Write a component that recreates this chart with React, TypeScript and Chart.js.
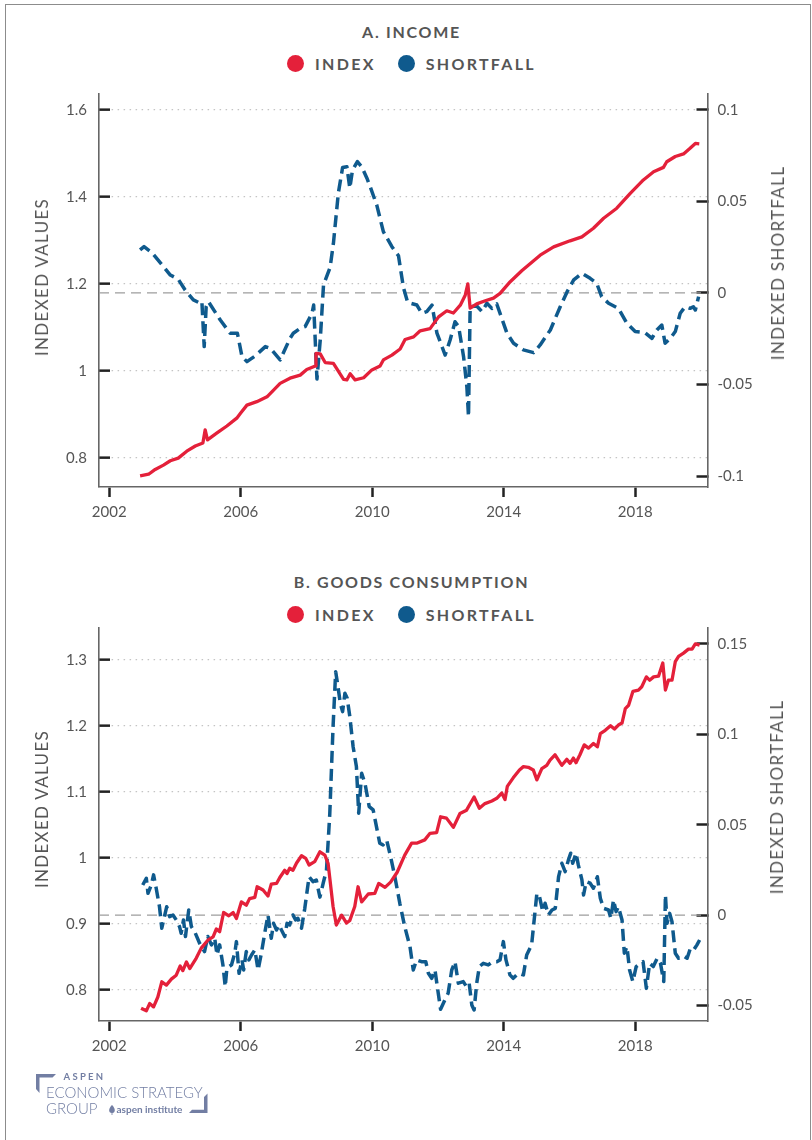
import React, { useEffect, useRef } from "react";
import { Chart, registerables } from "chart.js";

Chart.register(...registerables);

// ---------- DATA ----------
const X_TICKS = [2002, 2006, 2010, 2014, 2018];

// A. Income
const incomeIndexYears = [2002.94, 2003.2, 2003.4, 2003.65, 2003.86, 2004.1, 2004.36, 2004.62, 2004.85, 2004.92, 2004.99, 2005.28, 2005.58, 2005.88, 2006.0, 2006.19, 2006.49, 2006.8, 2007.2, 2007.5, 2007.81, 2008.01, 2008.27, 2008.29, 2008.42, 2008.57, 2008.82, 2009.13, 2009.23, 2009.33, 2009.48, 2009.74, 2009.99, 2010.24, 2010.34, 2010.6, 2010.85, 2011.0, 2011.26, 2011.46, 2011.76, 2012.02, 2012.27, 2012.47, 2012.68, 2012.83, 2012.91, 2012.98, 2013.18, 2013.44, 2013.69, 2013.89, 2014.2, 2014.55, 2015.11, 2015.52, 2016.02, 2016.38, 2016.73, 2017.04, 2017.44, 2017.85, 2018.25, 2018.56, 2018.86, 2018.96, 2019.22, 2019.47, 2019.67, 2019.83, 2019.95];
const incomeIndexValues = [0.758, 0.762, 0.773, 0.783, 0.793, 0.799, 0.815, 0.827, 0.834, 0.864, 0.841, 0.857, 0.873, 0.891, 0.903, 0.921, 0.929, 0.94, 0.971, 0.983, 0.99, 1.003, 1.011, 1.04, 1.039, 1.019, 1.017, 0.98, 0.979, 0.993, 0.979, 0.984, 1.002, 1.011, 1.025, 1.036, 1.05, 1.072, 1.078, 1.092, 1.097, 1.124, 1.138, 1.133, 1.151, 1.174, 1.2, 1.144, 1.154, 1.161, 1.167, 1.178, 1.205, 1.23, 1.266, 1.285, 1.299, 1.308, 1.328, 1.351, 1.374, 1.408, 1.439, 1.458, 1.468, 1.481, 1.493, 1.499, 1.512, 1.523, 1.522];

const incomeShortfallYears = [2002.94, 2003.06, 2003.3, 2003.65, 2003.86, 2004.1, 2004.31, 2004.56, 2004.77, 2004.82, 2004.89, 2004.95, 2005.02, 2005.38, 2005.68, 2005.9, 2006.04, 2006.19, 2006.44, 2006.75, 2006.9, 2007.2, 2007.5, 2007.6, 2007.81, 2007.96, 2008.17, 2008.22, 2008.32, 2008.42, 2008.52, 2008.72, 2008.82, 2008.97, 2009.1, 2009.23, 2009.32, 2009.4, 2009.55, 2009.68, 2009.84, 2009.94, 2010.14, 2010.34, 2010.6, 2010.8, 2010.95, 2011.08, 2011.36, 2011.51, 2011.66, 2011.82, 2011.97, 2012.22, 2012.37, 2012.52, 2012.63, 2012.78, 2012.88, 2012.93, 2012.98, 2013.18, 2013.34, 2013.49, 2013.64, 2013.79, 2014.1, 2014.3, 2014.6, 2014.91, 2015.11, 2015.42, 2015.72, 2015.93, 2016.13, 2016.38, 2016.63, 2016.83, 2016.98, 2017.19, 2017.49, 2017.75, 2018.0, 2018.3, 2018.51, 2018.66, 2018.81, 2018.91, 2019.07, 2019.22, 2019.37, 2019.52, 2019.67, 2019.77, 2019.83, 2019.93];
const incomeShortfallValues = [0.0235, 0.0253, 0.022, 0.0144, 0.0098, 0.0075, 0.0016, -0.0038, -0.0056, -0.0048, -0.0293, -0.0075, -0.0048, -0.0148, -0.022, -0.022, -0.0348, -0.0375, -0.0344, -0.0293, -0.0302, -0.0366, -0.0248, -0.022, -0.0193, -0.0184, -0.0111, -0.0066, -0.047, -0.0257, 0.0045, 0.014, 0.027, 0.0545, 0.0685, 0.069, 0.0572, 0.067, 0.0718, 0.069, 0.0627, 0.058, 0.048, 0.0335, 0.0253, 0.0203, 0.003, -0.0052, -0.0066, -0.0111, -0.0102, -0.0066, -0.022, -0.0339, -0.0257, -0.0157, -0.0184, -0.0348, -0.0512, -0.0676, -0.0075, -0.0071, -0.0102, -0.0056, -0.0084, -0.006, -0.022, -0.0275, -0.0311, -0.0326, -0.0284, -0.0202, -0.0075, 0.0007, 0.0071, 0.0108, 0.008, 0.0053, -0.002, -0.0056, -0.0084, -0.0166, -0.0211, -0.0217, -0.0248, -0.0202, -0.0175, -0.0275, -0.0248, -0.0211, -0.0111, -0.0075, -0.0084, -0.0075, -0.0093, -0.002];

const incomeLeftTicks = [0.8, 1, 1.2, 1.4, 1.6];
const incomeRightTicks = [-0.1, -0.05, 0, 0.05, 0.1];

// B. Goods consumption
const goodsIndexYears = [2002.97, 2003.13, 2003.23, 2003.35, 2003.48, 2003.6, 2003.74, 2003.89, 2004.04, 2004.16, 2004.24, 2004.35, 2004.45, 2004.65, 2004.8, 2005.0, 2005.16, 2005.26, 2005.36, 2005.48, 2005.64, 2005.77, 2005.87, 2006.02, 2006.17, 2006.27, 2006.43, 2006.5, 2006.68, 2006.83, 2006.93, 2007.09, 2007.19, 2007.34, 2007.41, 2007.49, 2007.59, 2007.7, 2007.85, 2007.98, 2008.08, 2008.25, 2008.41, 2008.56, 2008.66, 2008.81, 2008.91, 2009.07, 2009.22, 2009.32, 2009.47, 2009.57, 2009.68, 2009.88, 2010.08, 2010.2, 2010.39, 2010.56, 2010.76, 2010.99, 2011.2, 2011.35, 2011.6, 2011.76, 2011.96, 2012.08, 2012.26, 2012.47, 2012.67, 2012.87, 2013.1, 2013.26, 2013.43, 2013.64, 2013.79, 2013.94, 2014.04, 2014.11, 2014.29, 2014.48, 2014.6, 2014.75, 2014.9, 2015.01, 2015.16, 2015.31, 2015.41, 2015.56, 2015.77, 2015.92, 2016.02, 2016.12, 2016.2, 2016.32, 2016.45, 2016.58, 2016.73, 2016.85, 2016.94, 2017.09, 2017.25, 2017.37, 2017.49, 2017.6, 2017.7, 2017.8, 2017.93, 2018.1, 2018.2, 2018.34, 2018.44, 2018.56, 2018.71, 2018.84, 2018.92, 2019.01, 2019.12, 2019.22, 2019.32, 2019.47, 2019.62, 2019.73, 2019.83, 2019.96];
const goodsIndexValues = [0.772, 0.768, 0.779, 0.774, 0.789, 0.812, 0.807, 0.816, 0.822, 0.836, 0.829, 0.842, 0.832, 0.848, 0.863, 0.875, 0.88, 0.892, 0.888, 0.917, 0.912, 0.917, 0.908, 0.933, 0.928, 0.938, 0.94, 0.956, 0.951, 0.942, 0.96, 0.961, 0.97, 0.981, 0.976, 0.984, 0.981, 0.992, 1.003, 0.999, 0.989, 0.994, 1.009, 1.004, 0.991, 0.926, 0.898, 0.913, 0.901, 0.905, 0.926, 0.956, 0.933, 0.945, 0.946, 0.961, 0.955, 0.963, 0.978, 1.004, 1.022, 1.022, 1.027, 1.037, 1.038, 1.062, 1.06, 1.046, 1.067, 1.072, 1.092, 1.075, 1.082, 1.086, 1.09, 1.098, 1.088, 1.108, 1.121, 1.133, 1.138, 1.137, 1.133, 1.118, 1.135, 1.14, 1.148, 1.156, 1.14, 1.149, 1.143, 1.151, 1.144, 1.156, 1.171, 1.166, 1.173, 1.168, 1.188, 1.193, 1.2, 1.195, 1.201, 1.204, 1.226, 1.231, 1.252, 1.254, 1.259, 1.274, 1.269, 1.274, 1.275, 1.295, 1.254, 1.269, 1.269, 1.297, 1.305, 1.31, 1.316, 1.316, 1.324, 1.322];

const goodsShortfallYears = [2003.02, 2003.13, 2003.18, 2003.28, 2003.35, 2003.43, 2003.53, 2003.6, 2003.68, 2003.75, 2003.84, 2003.94, 2004.04, 2004.14, 2004.19, 2004.26, 2004.32, 2004.42, 2004.5, 2004.6, 2004.75, 2004.9, 2005.0, 2005.11, 2005.21, 2005.28, 2005.36, 2005.46, 2005.53, 2005.58, 2005.72, 2005.82, 2005.87, 2005.95, 2006.04, 2006.09, 2006.17, 2006.25, 2006.33, 2006.43, 2006.53, 2006.63, 2006.73, 2006.83, 2006.93, 2007.0, 2007.09, 2007.17, 2007.24, 2007.34, 2007.41, 2007.49, 2007.59, 2007.67, 2007.74, 2007.85, 2007.95, 2008.08, 2008.2, 2008.3, 2008.41, 2008.51, 2008.61, 2008.71, 2008.81, 2008.89, 2008.96, 2009.03, 2009.1, 2009.17, 2009.24, 2009.32, 2009.42, 2009.52, 2009.59, 2009.68, 2009.78, 2009.91, 2010.03, 2010.13, 2010.23, 2010.33, 2010.44, 2010.56, 2010.69, 2010.84, 2010.99, 2011.15, 2011.25, 2011.35, 2011.5, 2011.63, 2011.71, 2011.81, 2011.91, 2012.01, 2012.08, 2012.21, 2012.31, 2012.42, 2012.52, 2012.62, 2012.77, 2012.87, 2012.95, 2013.03, 2013.1, 2013.18, 2013.26, 2013.38, 2013.53, 2013.67, 2013.79, 2013.89, 2013.99, 2014.07, 2014.19, 2014.29, 2014.45, 2014.6, 2014.7, 2014.85, 2015.01, 2015.09, 2015.19, 2015.26, 2015.36, 2015.47, 2015.57, 2015.67, 2015.77, 2015.87, 2015.97, 2016.04, 2016.1, 2016.2, 2016.27, 2016.38, 2016.43, 2016.51, 2016.63, 2016.73, 2016.85, 2016.94, 2017.04, 2017.19, 2017.26, 2017.34, 2017.42, 2017.49, 2017.6, 2017.67, 2017.75, 2017.83, 2017.93, 2018.03, 2018.16, 2018.24, 2018.34, 2018.44, 2018.55, 2018.67, 2018.77, 2018.87, 2018.92, 2018.97, 2019.05, 2019.12, 2019.22, 2019.32, 2019.47, 2019.58, 2019.68, 2019.78, 2019.88, 2019.96];
const goodsShortfallValues = [0.0167, 0.0204, 0.0121, 0.0167, 0.0223, 0.0149, 0.0047, -0.0072, -0.0008, 0.0047, -0.0008, 0.0001, -0.0026, -0.0063, -0.01, -0.0026, -0.0118, 0.0029, -0.0063, -0.0091, -0.0155, -0.0201, -0.0118, -0.0164, -0.0127, -0.022, -0.0164, -0.0275, -0.0395, -0.0293, -0.0275, -0.021, -0.0146, -0.0321, -0.0247, -0.0303, -0.0201, -0.0247, -0.022, -0.0192, -0.0303, -0.021, -0.01, 0.0001, -0.0127, -0.0045, -0.0082, -0.0054, -0.0082, -0.0118, -0.0045, -0.0054, 0.0001, -0.0026, -0.0017, -0.0072, 0.0038, 0.0213, 0.0186, 0.0195, 0.01, 0.0177, 0.025, 0.056, 0.1043, 0.1347, 0.1264, 0.1172, 0.1126, 0.1227, 0.12, 0.1098, 0.0932, 0.0822, 0.0564, 0.0785, 0.073, 0.06, 0.0582, 0.049, 0.0398, 0.0389, 0.0416, 0.0324, 0.0213, 0.0066, -0.0063, -0.0174, -0.0303, -0.0247, -0.0257, -0.0257, -0.0321, -0.0349, -0.0303, -0.0432, -0.052, -0.0469, -0.0432, -0.0303, -0.0257, -0.0376, -0.0367, -0.0395, -0.0376, -0.0496, -0.0524, -0.0376, -0.0284, -0.0266, -0.0275, -0.0257, -0.0257, -0.0247, -0.0146, -0.0247, -0.033, -0.0349, -0.0321, -0.033, -0.022, -0.0164, 0.0121, 0.0103, 0.002, 0.0066, 0.0001, 0.0029, 0.0038, 0.0213, 0.0287, 0.0241, 0.0306, 0.0343, 0.0287, 0.0343, 0.0278, 0.0195, 0.0112, 0.0186, 0.0177, 0.0149, 0.0213, 0.0094, 0.0038, 0.0029, -0.0017, 0.0085, 0.002, 0.0047, -0.0026, -0.021, -0.0174, -0.0303, -0.0367, -0.0284, -0.0266, -0.0257, -0.0404, -0.0266, -0.0284, -0.0238, -0.0266, -0.0367, 0.0112, -0.0045, 0.001, -0.0036, -0.021, -0.0238, -0.0225, -0.0238, -0.0183, -0.0192, -0.0164, -0.0137];

const goodsLeftTicks = [0.8, 0.9, 1, 1.1, 1.2, 1.3];
const goodsRightTicks = [-0.05, 0, 0.05, 0.1, 0.15];

// ---------- STYLE ----------
const FONT = "Lato, 'Open Sans', sans-serif";
const RED = "#E4203A";
const BLUE = "#0F5A8D";
const TEXT = "#555555";
const X_MIN = 2001.69;
const X_MAX = 2020.2;

const toPoints = (xs: number[], ys: number[]) => xs.map((x, i) => ({ x, y: ys[i] }));
const fixedTicks = (vals: number[]) => (s: any) => {
  s.ticks = vals.map((v) => ({ value: v }));
};

function buildConfig(p: any): any {
  const tickFont = { family: FONT, size: 15 };
  const fitY = (w: number) => (s: any) => {
    s.width = w;
    s.paddingTop = 0;
    s.paddingBottom = 0;
  };
  return {
    type: "line",
    data: {
      datasets: [
        {
          label: "INDEX",
          data: toPoints(p.idxX, p.idxY),
          yAxisID: "y",
          borderColor: RED,
          backgroundColor: RED,
          borderWidth: 3.3,
          pointRadius: 0,
          tension: 0,
          borderJoinStyle: "round",
          fill: false,
        },
        {
          label: "SHORTFALL",
          data: toPoints(p.sfX, p.sfY),
          yAxisID: "y1",
          borderColor: BLUE,
          backgroundColor: BLUE,
          borderWidth: 3.5,
          borderDash: [12, 6],
          pointRadius: 0,
          tension: 0,
          borderJoinStyle: "round",
          fill: false,
        },
        {
          label: "zero",
          data: [
            { x: X_MIN, y: 0 },
            { x: X_MAX, y: 0 },
          ],
          yAxisID: "y1",
          borderColor: "#9d9d9d",
          borderWidth: 1.3,
          borderDash: [10, 6],
          pointRadius: 0,
          fill: false,
        },
      ],
    },
    options: {
      animation: false,
      responsive: false,
      maintainAspectRatio: false,
      events: [],
      layout: {
        autoPadding: false,
        padding: { top: p.padTop, bottom: p.padBottom, left: 0, right: 0 },
      },
      plugins: {
        legend: { display: false },
        title: { display: false },
        tooltip: { enabled: false },
      },
      scales: {
        x: {
          type: "linear",
          min: X_MIN,
          max: X_MAX,
          afterBuildTicks: fixedTicks(X_TICKS),
          afterFit: (s: any) => {
            s.height = p.xAxisH;
            s.paddingLeft = 0;
            s.paddingRight = 0;
          },
          grid: {
            drawOnChartArea: false,
            drawTicks: true,
            tickLength: 10,
            tickWidth: 2.5,
            tickColor: "#222",
            color: "#222",
          },
          border: { color: "#666", width: 1.6 },
          ticks: {
            font: tickFont,
            color: TEXT,
            padding: 6,
            maxRotation: 0,
            autoSkip: false,
            callback: (v: any) => String(v),
          },
        },
        y: {
          type: "linear",
          position: "left",
          min: p.yMin,
          max: p.yMax,
          afterBuildTicks: fixedTicks(p.leftTicks),
          afterFit: fitY(99),
          grid: {
            drawOnChartArea: true,
            drawTicks: true,
            tickLength: -11,
            tickWidth: 2.5,
            tickColor: "#222",
            color: "#c4c4c4",
            lineWidth: 1.3,
          },
          border: { color: "#666", width: 1.6, dash: [1.5, 4.5] },
          ticks: {
            font: tickFont,
            color: TEXT,
            padding: 23,
            callback: (v: any) => String(v),
          },
        },
        y1: {
          type: "linear",
          position: "right",
          min: p.y1Min,
          max: p.y1Max,
          afterBuildTicks: fixedTicks(p.rightTicks),
          afterFit: fitY(104.5),
          grid: {
            drawOnChartArea: false,
            drawTicks: true,
            tickLength: -11,
            tickWidth: 2.5,
            tickColor: "#222",
            color: "#222",
          },
          border: { color: "#666", width: 1.6 },
          ticks: {
            font: tickFont,
            color: TEXT,
            padding: 21,
            callback: (v: any) => String(v),
          },
        },
      },
    },
  };
}

function ChartCanvas({ config, top, height }: { config: any; top: number; height: number }) {
  const ref = useRef<HTMLCanvasElement | null>(null);
  useEffect(() => {
    if (!ref.current) return;
    const chart = new Chart(ref.current, config);
    return () => chart.destroy();
  }, []);
  return (
    <canvas
      ref={ref}
      width={812}
      height={height}
      style={{ position: "absolute", left: 0, top, width: 812, height, display: "block" }}
    />
  );
}

function Heading({ text, cy }: { text: string; cy: number }) {
  return (
    <div
      style={{
        position: "absolute",
        left: 0,
        width: 823,
        top: cy - 10,
        height: 20,
        lineHeight: "20px",
        textAlign: "center",
        fontFamily: FONT,
        fontWeight: 700,
        fontSize: 16,
        letterSpacing: 1.7,
        color: TEXT,
        whiteSpace: "nowrap",
      }}
    >
      {text}
    </div>
  );
}

function Legend({ cy }: { cy: number }) {
  const item = (color: string, label: string, ml: number) => (
    <div style={{ display: "flex", alignItems: "center", marginLeft: ml }}>
      <span
        style={{ width: 17, height: 17, borderRadius: "50%", background: color, display: "inline-block" }}
      />
      <span style={{ marginLeft: 11, letterSpacing: 2.3 }}>{label}</span>
    </div>
  );
  return (
    <div
      style={{
        position: "absolute",
        left: 0,
        width: 823,
        top: cy - 10,
        height: 20,
        display: "flex",
        justifyContent: "center",
        alignItems: "center",
        fontFamily: FONT,
        fontWeight: 700,
        fontSize: 16,
        color: TEXT,
        whiteSpace: "nowrap",
      }}
    >
      {item(RED, "INDEX", 0)}
      {item(BLUE, "SHORTFALL", 22)}
    </div>
  );
}

function AxisTitle({ text, cx, cy }: { text: string; cx: number; cy: number }) {
  return (
    <div
      style={{
        position: "absolute",
        left: cx,
        top: cy,
        transform: "translate(-50%, -50%) rotate(-90deg)",
        fontFamily: FONT,
        fontSize: 17,
        letterSpacing: 1.3,
        color: TEXT,
        whiteSpace: "nowrap",
        lineHeight: "20px",
      }}
    >
      {text}
    </div>
  );
}

function Logo() {
  const c = "#727ea3";
  return (
    <div style={{ position: "absolute", left: 0, top: 0 }}>
      <svg width={240} height={1140} style={{ position: "absolute", left: 0, top: 0 }}>
        <polygon points="36,1074 56,1074 52.5,1077.5 39.5,1077.5 39.5,1093 36,1089" fill={c} />
        <polygon points="207.5,1113 207.5,1093.5 204,1097 204,1109.7 192,1109.7 189,1113" fill={c} />
        <path d="M112,1105 C109,1108 108.5,1111 110,1112.5 L111.6,1113 L111.6,1115 L112.4,1115 L112.4,1113 L114,1112.5 C115.5,1111 115,1108 112,1105 Z" fill={c} />
      </svg>
      <div style={{ position: "absolute", left: 63.5, top: 1071, fontFamily: FONT, fontWeight: 700, fontSize: 9.5, letterSpacing: 2.3, color: c, lineHeight: "12px" }}>ASPEN</div>
      <div style={{ position: "absolute", left: 46, top: 1083, fontFamily: FONT, fontWeight: 300, fontSize: 15, color: c, lineHeight: "18px", whiteSpace: "nowrap" }}>ECONOMIC STRATEGY</div>
      <div style={{ position: "absolute", left: 46, top: 1098.5, fontFamily: FONT, fontWeight: 300, fontSize: 15, color: c, lineHeight: "18px" }}>GROUP</div>
      <div style={{ position: "absolute", left: 116.5, top: 1103, fontFamily: FONT, fontWeight: 700, fontSize: 10, color: c, lineHeight: "13px", whiteSpace: "nowrap" }}>aspen institute</div>
    </div>
  );
}

const configA = buildConfig({
  idxX: incomeIndexYears,
  idxY: incomeIndexValues,
  sfX: incomeShortfallYears,
  sfY: incomeShortfallValues,
  leftTicks: incomeLeftTicks,
  rightTicks: incomeRightTicks,
  yMin: 0.7326,
  yMax: 1.6368,
  y1Min: -0.106,
  y1Max: 0.1087,
  padTop: 14,
  padBottom: 13,
  xAxisH: 40,
});

const configB = buildConfig({
  idxX: goodsIndexYears,
  idxY: goodsIndexValues,
  sfX: goodsShortfallYears,
  sfY: goodsShortfallValues,
  leftTicks: goodsLeftTicks,
  rightTicks: goodsRightTicks,
  yMin: 0.7526,
  yMax: 1.3485,
  y1Min: -0.0585,
  y1Max: 0.159,
  padTop: 7.7,
  padBottom: 9,
  xAxisH: 30,
});

export default function App() {
  return (
    <div
      style={{
        position: "absolute",
        left: 0,
        top: 0,
        width: 812,
        height: 1140,
        overflow: "hidden",
        background: "#fff",
      }}
    >
      <div
        style={{
          position: "absolute",
          left: 4.5,
          top: 3.5,
          width: 804,
          height: 1200,
          border: "1.5px solid #8c8c8c",
        }}
      />
      <Heading text="A. INCOME" cy={32.3} />
      <Legend cy={63.3} />
      <ChartCanvas config={configA} top={80} height={460} />
      <AxisTitle text="INDEXED VALUES" cx={42} cy={277} />
      <AxisTitle text="INDEXED SHORTFALL" cx={777.5} cy={263} />

      <Heading text="B. GOODS CONSUMPTION" cy={581.7} />
      <Legend cy={614} />
      <ChartCanvas config={configB} top={620} height={440} />
      <AxisTitle text="INDEXED VALUES" cx={42} cy={809} />
      <AxisTitle text="INDEXED SHORTFALL" cx={777} cy={797} />

      <Logo />
    </div>
  );
}
